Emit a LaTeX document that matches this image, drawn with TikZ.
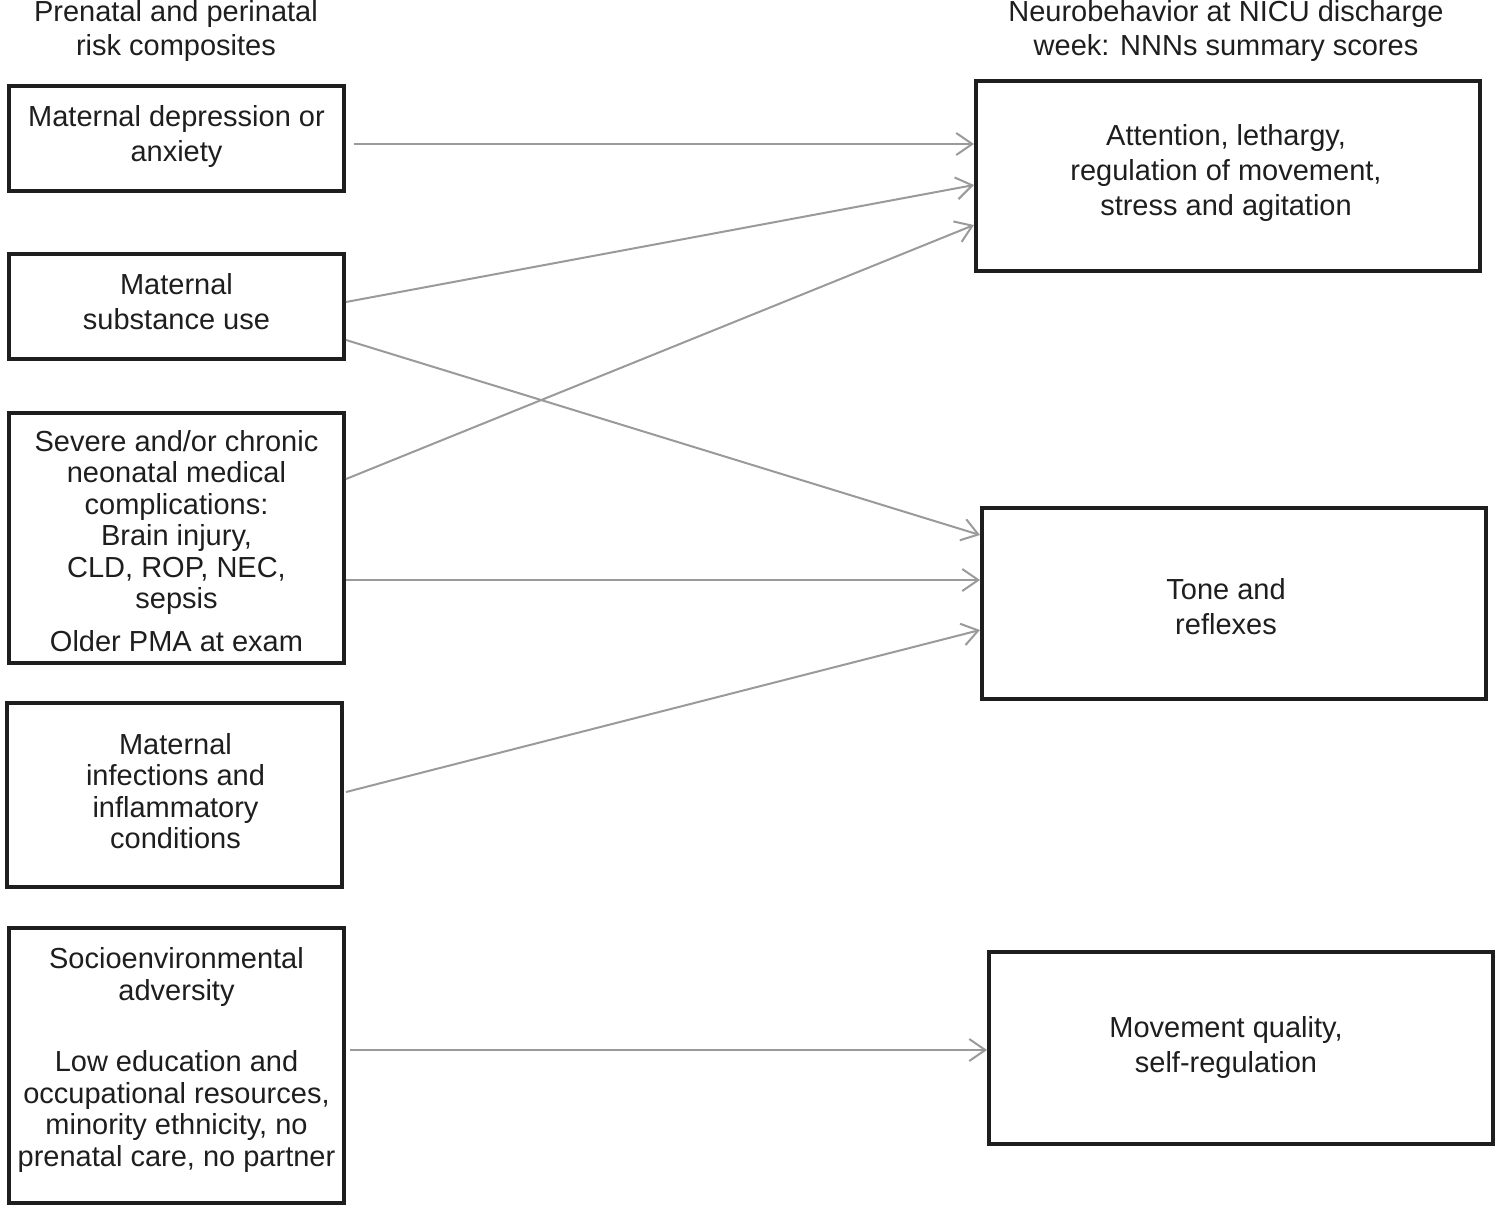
\documentclass[tikz,border=0pt]{standalone}
\usepackage{fontspec}
\setmainfont{Liberation Sans}
\usetikzlibrary{arrows.meta}
\definecolor{boxc}{HTML}{1E1E1E}
\definecolor{arrc}{HTML}{9A9A9A}
\begin{document}
\begin{tikzpicture}[x=1pt,y=-1pt,
  frame/.style={draw=boxc,line width=4pt,rectangle,inner sep=0pt},
  txt/.style={align=center,text=boxc,inner sep=0pt,font=\fontsize{29}{35}\selectfont},
  ttxt/.style={txt,font=\fontsize{29}{31.5}\selectfont},
  hdr/.style={align=center,text=boxc,font=\fontsize{29}{34}\selectfont,inner sep=0pt},
  arr/.style={draw=arrc,line width=2pt,-{Straight Barb[length=16pt,width=22pt,line width=2pt]}}]
\useasboundingbox (0,0) rectangle (1500,1211);
\node[hdr] (h1) at (176,31) {Prenatal and perinatal\\risk composites};
\node[hdr] (h2) at (1226,31) {Neurobehavior at NICU discharge\\week: NNNs summary scores};
% left boxes
\node[frame,minimum width=335pt,minimum height=105pt] (A) at (176.5,138.5) {};
\node[txt] (At) at (176.5,136.5) {Maternal depression or\\anxiety};
\node[frame,minimum width=335pt,minimum height=105pt] (B) at (176.5,306.5) {};
\node[txt] (Bt) at (176.5,301.5) {Maternal\\substance use};
\node[frame,minimum width=335pt,minimum height=250pt] (C) at (176.5,538) {};
\node[ttxt] (Ct) at (176.5,541) {Severe and/or chronic\\neonatal medical\\complications:\\Brain injury,\\CLD, ROP, NEC,\\sepsis\\[11pt]Older PMA at exam};
\node[frame,minimum width=335pt,minimum height=184pt] (D) at (174.5,795) {};
\node[ttxt] (Dt) at (175.5,791) {Maternal\\infections and\\inflammatory\\conditions};
\node[frame,minimum width=335pt,minimum height=275pt] (E) at (176.5,1065.5) {};
\node[ttxt] (Et) at (176.5,1060) {Socioenvironmental\\adversity\\[40pt]Low education and\\occupational resources,\\minority ethnicity, no\\prenatal care, no partner};
% right boxes
\node[frame,minimum width=504pt,minimum height=190pt] (R1) at (1228,176) {};
\node[txt] (R1t) at (1226,173) {Attention, lethargy,\\regulation of movement,\\stress and agitation};
\node[frame,minimum width=504pt,minimum height=191pt] (R2) at (1234,603.5) {};
\node[txt] (R2t) at (1226,606.5) {Tone and\\reflexes};
\node[frame,minimum width=504pt,minimum height=192pt] (R3) at (1241,1048) {};
\node[txt] (R3t) at (1226,1047) {Movement quality,\\self-regulation};
% connectors
\draw[arr] ([xshift=8pt,yshift=-5.5pt]A.east) -- ([yshift=32pt]R1.west);
\draw[arr] ([yshift=4.5pt]B.east) -- ([yshift=-9pt]R1.west);
\draw[arr] ([yshift=59pt]C.east) -- ([yshift=-49pt]R1.west);
\draw[arr] ([yshift=-33.5pt]B.east) -- ([yshift=68.5pt]R2.west);
\draw[arr] ([yshift=-42pt]C.east) -- ([yshift=23.5pt]R2.west);
\draw[arr] ([xshift=2pt,yshift=3pt]D.east) -- ([yshift=-26.5pt]R2.west);
\draw[arr] ([xshift=4pt,yshift=15.5pt]E.east) -- ([yshift=-2pt]R3.west);
\end{tikzpicture}
\end{document}
